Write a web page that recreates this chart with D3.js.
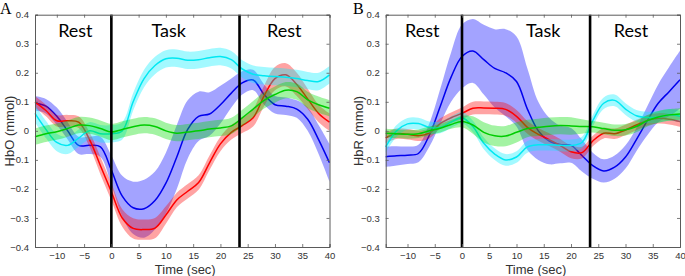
<!DOCTYPE html>
<html><head><meta charset="utf-8">
<script src="https://cdn.jsdelivr.net/npm/d3@7/dist/d3.min.js"></script>
<style>body{margin:0;background:#fff}svg{display:block}</style>
</head><body>
<svg id="chart" width="685" height="276"></svg>
<script>
// ---------- data ----------
const times = [-14,-12,-10,-8,-6,-4,-2,0,2,4,6,8,10,12,14,16,18,20,22,24,26,28,30,32,34,36,38,40];
const xTicks = [-10,-5,0,5,10,15,20,25,30,35,40];
const yTicks = [0.4,0.3,0.2,0.1,0,-0.1,-0.2,-0.3,-0.4];
const eventTimes = [0, 23.5];
const phaseLabelsA = [{t:-6.6,text:"Rest"},{t:10.5,text:"Task"},{t:31.7,text:"Rest"}];
const phaseLabelsB = [{t:-7.3,text:"Rest"},{t:14.9,text:"Task"},{t:31,text:"Rest"}];

// Panel A: HbO
const hboBlue  = [0.095,0.085,0.05,0.0,-0.05,-0.05,-0.055,-0.135,-0.225,-0.265,-0.268,-0.24,-0.18,-0.09,0.005,0.05,0.058,0.09,0.13,0.165,0.175,0.125,0.09,0.085,0.075,0.04,-0.03,-0.11];
const hboBlueErr = [0.025,0.025,0.03,0.03,0.03,0.03,0.035,0.05,0.07,0.09,0.1,0.1,0.105,0.11,0.1,0.085,0.075,0.065,0.05,0.04,0.035,0.035,0.03,0.03,0.03,0.04,0.05,0.065];
const hboRed   = [0.10,0.07,0.035,0.035,0.03,-0.03,-0.12,-0.21,-0.30,-0.336,-0.34,-0.335,-0.29,-0.238,-0.208,-0.178,-0.11,-0.045,-0.005,0.018,0.045,0.12,0.18,0.193,0.16,0.11,0.06,0.03];
const hboRedErr = [0.02,0.02,0.02,0.02,0.02,0.025,0.03,0.03,0.03,0.035,0.035,0.035,0.03,0.025,0.025,0.025,0.025,0.025,0.025,0.025,0.03,0.035,0.04,0.04,0.04,0.035,0.03,0.03];
const hboCyan  = [0.06,0.005,-0.04,-0.05,-0.025,0.0,-0.01,-0.01,0.0,0.10,0.18,0.225,0.248,0.25,0.243,0.245,0.252,0.256,0.245,0.213,0.195,0.19,0.187,0.185,0.18,0.173,0.17,0.193];
const hboCyanErr = [0.03,0.03,0.03,0.03,0.03,0.03,0.03,0.03,0.03,0.03,0.03,0.03,0.03,0.03,0.03,0.03,0.03,0.03,0.03,0.03,0.03,0.03,0.03,0.03,0.03,0.03,0.03,0.03];
const hboGreen = [-0.02,-0.01,-0.003,0.008,0.02,0.018,0.008,-0.004,0.005,0.014,0.02,0.015,0.0,-0.008,-0.004,0.0,0.006,0.01,0.017,0.045,0.075,0.105,0.125,0.14,0.135,0.107,0.09,0.078];
const hboGreenErr = [0.028,0.028,0.028,0.028,0.028,0.028,0.028,0.028,0.028,0.028,0.028,0.028,0.028,0.028,0.028,0.028,0.028,0.028,0.028,0.028,0.028,0.028,0.028,0.028,0.028,0.028,0.028,0.028];

// Panel B: HbR
const hbrBlue  = [-0.089,-0.086,-0.084,-0.078,-0.015,0.084,0.185,0.256,0.275,0.245,0.215,0.2,0.17,0.075,0.0,-0.035,-0.047,-0.05,-0.085,-0.12,-0.138,-0.125,-0.09,-0.03,0.035,0.095,0.135,0.176];
const hbrBlueErr = [0.035,0.033,0.03,0.03,0.04,0.06,0.085,0.11,0.11,0.12,0.135,0.15,0.155,0.14,0.1,0.08,0.065,0.06,0.055,0.045,0.04,0.04,0.04,0.04,0.05,0.065,0.085,0.1];
const hbrRed   = [-0.024,-0.01,-0.012,-0.017,-0.008,0.025,0.045,0.06,0.078,0.079,0.078,0.074,0.05,0.012,-0.012,-0.03,-0.05,-0.072,-0.075,-0.035,-0.008,-0.01,0.003,0.02,0.036,0.043,0.04,0.032];
const hbrRedErr = [0.018,0.018,0.018,0.018,0.018,0.018,0.018,0.02,0.022,0.022,0.022,0.022,0.022,0.022,0.022,0.022,0.022,0.022,0.02,0.018,0.018,0.018,0.018,0.018,0.018,0.018,0.018,0.018];
const hbrCyan  = [-0.055,0.0,0.024,0.025,0.012,0.012,0.03,0.045,0.015,-0.043,-0.08,-0.1,-0.09,-0.055,-0.048,-0.048,-0.05,-0.05,-0.04,0.035,0.095,0.105,0.075,0.052,0.046,0.048,0.055,0.05];
const hbrCyanErr = [0.02,0.02,0.02,0.02,0.02,0.02,0.02,0.02,0.02,0.02,0.02,0.02,0.02,0.02,0.02,0.02,0.02,0.02,0.02,0.02,0.02,0.02,0.02,0.02,0.02,0.02,0.02,0.02];
const hbrGreen = [-0.008,-0.01,-0.012,-0.01,0.0,0.009,0.022,0.032,0.02,-0.005,-0.017,-0.018,-0.005,0.008,0.012,0.016,0.018,0.017,0.015,0.014,0.008,0.002,0.004,0.015,0.035,0.048,0.055,0.058];
const hbrGreenErr = [0.015,0.015,0.015,0.015,0.015,0.015,0.015,0.02,0.03,0.035,0.035,0.035,0.035,0.03,0.03,0.03,0.03,0.03,0.025,0.02,0.02,0.02,0.02,0.02,0.02,0.02,0.02,0.02];

const colors = {blue:"#0000ee", red:"#ff0000", cyan:"#00e8f2", green:"#00cc00"};
const bandColors = {blue:"#0000ff", red:"#ff0000", cyan:"#00eeff", green:"#00dd00"};

// ---------- drawing ----------
const svg = d3.select("#chart");

function drawPanel(cfg){
  const x = d3.scaleLinear().domain([-14,40]).range([cfg.left, cfg.right]);
  const y = d3.scaleLinear().domain([-0.4,0.4]).range([247, 14.7]);
  const g = svg.append("g");

  cfg.series.forEach(s => {
    const pts = times.map((t,i)=>({t, v:s.values[i], e:s.err[i]}));
    const area = d3.area().curve(d3.curveCatmullRom.alpha(0.5))
      .x(d=>x(d.t)).y0(d=>y(d.v - d.e)).y1(d=>y(d.v + d.e));
    const line = d3.line().curve(d3.curveCatmullRom.alpha(0.5))
      .x(d=>x(d.t)).y(d=>y(d.v));
    g.append("path").attr("d", area(pts)).attr("fill", bandColors[s.color]).attr("fill-opacity", 0.36).attr("stroke","none");
    g.append("path").attr("d", line(pts)).attr("fill","none").attr("stroke", colors[s.color]).attr("stroke-width",1.5);
  });

  // event lines
  eventTimes.forEach(t=>{
    g.append("line").attr("x1",x(t)).attr("x2",x(t)).attr("y1",y(0.4)).attr("y2",y(-0.4))
      .attr("stroke","#000").attr("stroke-width",2.6);
  });

  // box & ticks (inward, mirrored)
  const axCol = "#5a5a5a";
  const bottom = d3.axisBottom(x).tickValues(xTicks).tickSize(-3).tickPadding(5).tickFormat(d3.format("d"));
  const gb = g.append("g").attr("transform",`translate(0,${y(-0.4)})`).call(bottom);
  const top = d3.axisTop(x).tickValues(xTicks).tickSize(-3).tickFormat("");
  const gt = g.append("g").attr("transform",`translate(0,${y(0.4)})`).call(top);
  const left = d3.axisLeft(y).tickValues(yTicks).tickSize(-3).tickPadding(6).tickFormat(d=> d===0 ? "0" : d3.format(".1f")(d));
  const gl = g.append("g").attr("transform",`translate(${x(-14)},0)`).call(left);
  const right = d3.axisRight(y).tickValues(yTicks).tickSize(-3).tickFormat("");
  const gr = g.append("g").attr("transform",`translate(${x(40)},0)`).call(right);
  [gb,gt,gl,gr].forEach(a=>{
    a.select(".domain").attr("stroke",axCol).attr("stroke-width",1);
    a.selectAll(".tick line").attr("stroke",axCol).attr("stroke-width",0.8);
    a.selectAll(".tick text").attr("fill","#333").style("font-family","'Liberation Sans', Arial, sans-serif").style("font-size","9.5px");
  });

  // phase labels
  cfg.labels.forEach(l=>{
    g.append("text").attr("x",x(l.t)).attr("y",37).attr("text-anchor","middle")
      .style("font-family","Lato, 'Open Sans', sans-serif").style("font-size","18px").attr("fill","#000").text(l.text);
  });

  // axis titles
  g.append("text").attr("x",(x(-14)+x(40))/2 + 3).attr("y",274).attr("text-anchor","middle")
    .style("font-family","'Liberation Sans', Arial, sans-serif").style("font-size","13px").attr("fill","#333").text("Time (sec)");
  g.append("text").attr("transform",`translate(${cfg.ylabX},131) rotate(-90)`).attr("text-anchor","middle")
    .style("font-family","'Liberation Sans', Arial, sans-serif").style("font-size","13px").attr("fill","#333").text(cfg.ylabel);
  // panel letter
  g.append("text").attr("x",cfg.letterX).attr("y",14).style("font-family","'Liberation Serif', 'Times New Roman', serif")
    .style("font-size","16px").attr("fill","#000").text(cfg.letter);
}

drawPanel({left:35, right:329.5, ylabel:"HbO (mmol)", ylabX:14, letter:"A", letterX:0, labels:phaseLabelsA,
  series:[
    {values:hboBlue, err:hboBlueErr, color:"blue"},
    {values:hboRed, err:hboRedErr, color:"red"},
    {values:hboCyan, err:hboCyanErr, color:"cyan"},
    {values:hboGreen, err:hboGreenErr, color:"green"}
  ]});
drawPanel({left:385.7, right:680, ylabel:"HbR (mmol)", ylabX:363, letter:"B", letterX:353, labels:phaseLabelsB,
  series:[
    {values:hbrBlue, err:hbrBlueErr, color:"blue"},
    {values:hbrRed, err:hbrRedErr, color:"red"},
    {values:hbrCyan, err:hbrCyanErr, color:"cyan"},
    {values:hbrGreen, err:hbrGreenErr, color:"green"}
  ]});
</script>
</body></html>
